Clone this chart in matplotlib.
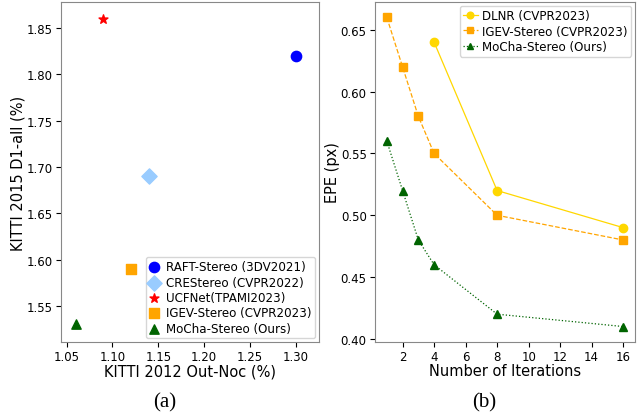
import matplotlib
matplotlib.use("Agg")
import matplotlib.pyplot as plt

# ---- (a) scatter data ----
methods_a = ["RAFT-Stereo (3DV2021)", "CREStereo (CVPR2022)", "UCFNet(TPAMI2023)",
             "IGEV-Stereo (CVPR2023)", "MoCha-Stereo (Ours)"]
kitti2012 = [1.30, 1.14, 1.09, 1.12, 1.06]
kitti2015 = [1.82, 1.69, 1.86, 1.59, 1.53]
colors_a = ["blue", "#99CCFF", "red", "orange", "darkgreen"]
markers_a = ["o", "D", "*", "s", "^"]
sizes_a = [55, 60, 45, 60, 45]

# ---- (b) line data ----
dlnr_iters = [4, 8, 16]
dlnr_epe = [0.64, 0.52, 0.49]
igev_iters = [1, 2, 3, 4, 8, 16]
igev_epe = [0.66, 0.62, 0.58, 0.55, 0.50, 0.48]
mocha_iters = [1, 2, 3, 4, 8, 16]
mocha_epe = [0.56, 0.52, 0.48, 0.46, 0.42, 0.41]

W, H = 637, 414
fig = plt.figure(figsize=(W / 100, H / 100), dpi=100)

def ax_rect(l, r, t, b):
    return [l / W, 1 - b / H, (r - l) / W, (b - t) / H]

ax1 = fig.add_axes(ax_rect(61, 319, 3, 343))
ax2 = fig.add_axes(ax_rect(375, 635, 3, 343))

for x, y, c, m, s, lab in zip(kitti2012, kitti2015, colors_a, markers_a, sizes_a, methods_a):
    ax1.scatter(x, y, c=c, marker=m, s=s, label=lab, zorder=3)
ax1.set_xlim(1.044, 1.325)
ax1.set_ylim(1.511, 1.878)
ax1.set_xticks([1.05, 1.10, 1.15, 1.20, 1.25, 1.30])
ax1.set_yticks([1.55, 1.60, 1.65, 1.70, 1.75, 1.80, 1.85])
ax1.set_xlabel("KITTI 2012 Out-Noc (%)", fontsize=10.5, labelpad=0)
ax1.set_ylabel("KITTI 2015 D1-all (%)", fontsize=10.5, labelpad=0.5)
ax1.tick_params(labelsize=8.5, pad=2.5)
ax1.legend(loc="lower right", fontsize=8.6, handlelength=0.8, handletextpad=0.6,
           borderpad=0.3, labelspacing=0.2, scatterpoints=1, borderaxespad=0.3)

ax2.plot(dlnr_iters, dlnr_epe, color="gold", linestyle="-", marker="o", markersize=6,
         linewidth=0.9, label="DLNR (CVPR2023)")
ax2.plot(igev_iters, igev_epe, color="orange", linestyle="--", marker="s", markersize=6,
         linewidth=0.9, label="IGEV-Stereo (CVPR2023)")
ax2.plot(mocha_iters, mocha_epe, color="darkgreen", linestyle=":", marker="^", markersize=5.5,
         linewidth=0.9, label="MoCha-Stereo (Ours)")
ax2.set_xlim(0.25, 16.75)
ax2.set_ylim(0.3975, 0.6725)
ax2.set_xticks([2, 4, 6, 8, 10, 12, 14, 16])
ax2.set_yticks([0.40, 0.45, 0.50, 0.55, 0.60, 0.65])
ax2.set_xlabel("Number of Iterations", fontsize=10.5, labelpad=0)
ax2.set_ylabel("EPE (px)", fontsize=10.5, labelpad=0.5)
ax2.tick_params(labelsize=8.5, pad=2.5)
ax2.legend(loc="upper right", fontsize=8.6, handlelength=1.2, handletextpad=0.4,
           borderpad=0.3, labelspacing=0.2, borderaxespad=0.3, markerscale=0.8)

for ax in (ax1, ax2):
    for sp in ax.spines.values():
        sp.set_color("#888888")

fig.text(165 / W, 1 - 403 / H, "(a)", fontsize=15, family="Liberation Serif",
         ha="center", va="center")
fig.text(484 / W, 1 - 403 / H, "(b)", fontsize=15, family="Liberation Serif",
         ha="center", va="center")

fig.savefig("out.png", dpi=100)
